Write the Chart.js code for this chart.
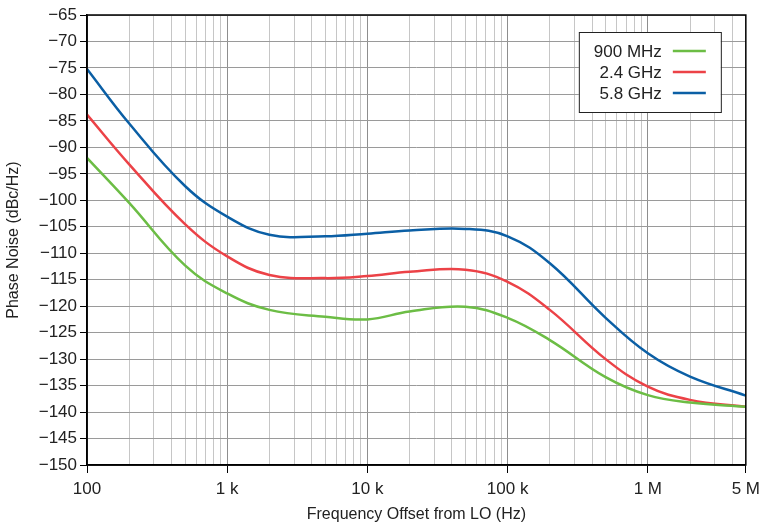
<!DOCTYPE html>
<html>
<head>
<meta charset="utf-8">
<script src="https://cdn.jsdelivr.net/npm/chart.js@4.4.1/dist/chart.umd.min.js"></script>
<style>
  html, body { margin:0; padding:0; background:#fff; }
  #wrap { width:766px; height:525px; position:relative; }
</style>
</head>
<body>
<div id="wrap"><canvas id="c"></canvas></div>
<script>
// --- datos ---
const freqs = [100, 200, 500, 1000, 2000, 5000, 10000, 20000, 50000,
               100000, 200000, 500000, 1000000, 2000000, 5000000];

const n900M = [-92.0, -100.5, -112.3, -117.6, -120.7, -122.0, -122.5, -121.0, -120.1,
               -122.2, -126.4, -133.4, -136.8, -138.2, -139.0];
const n2G4  = [-83.8, -93.2, -104.5, -110.6, -114.1, -114.7, -114.3, -113.5, -113.1,
               -115.4, -120.7, -130.0, -135.2, -137.7, -139.0];
const n5G8  = [-75.2, -85.5, -97.3, -103.1, -106.5, -106.8, -106.3, -105.7, -105.4,
               -106.8, -111.9, -122.2, -128.9, -133.3, -136.9];

const seriesLabels = ["900 MHz", "2.4 GHz", "5.8 GHz"];
const seriesColors = ["#6cbd45", "#ec4247", "#0b5fa5"];

const xLabelValues = [100, 1000, 10000, 100000, 1000000, 5000000];
const xLabelText   = ["100", "1 k", "10 k", "100 k", "1 M", "5 M"];
const decades = [100, 1000, 10000, 100000, 1000000];

const FONT = "'Liberation Sans', Arial, Helvetica, sans-serif";
const TXT = "#222";

function sel(id){ return document.getElementById(id); }
const minus = (v) => String(v).replace("-", "\u2212");
const pts = (ys) => freqs.map((f,i)=>({ x:f, y:ys[i] }));

// lineas de rejilla: 1..9 por decada, hasta 5 M
const gridVals = [];
decades.forEach(d => { for (let k=1;k<=9;k++){ const v=d*k; if (v<=5000000) gridVals.push(v); } });

// --- leyenda y marco ---
const framePlugin = {
  id: "frame",
  afterDraw(chart){
    const { ctx, chartArea: a } = chart;
    ctx.save();
    ctx.strokeStyle = "#000";
    ctx.lineWidth = 1.5;
    ctx.strokeRect(a.left, a.top, a.right - a.left, a.bottom - a.top);

    // leyenda
    const bx = a.right - 167, by = a.top + 17, bw = 142, bh = 80;
    ctx.fillStyle = "#fff";
    ctx.fillRect(bx, by, bw, bh);
    ctx.lineWidth = 1;
    ctx.strokeStyle = "#222";
    ctx.strokeRect(bx + 0.5, by + 0.5, bw, bh);
    ctx.font = "17px " + FONT;
    ctx.textAlign = "right";
    ctx.textBaseline = "middle";
    chart.data.datasets.forEach((ds, i) => {
      const y = by + 19 + i * 21;
      ctx.fillStyle = TXT;
      ctx.fillText(ds.label, bx + 83, y + 1);
      ctx.strokeStyle = ds.borderColor;
      ctx.lineWidth = 2.5;
      ctx.beginPath();
      ctx.moveTo(bx + 94, y);
      ctx.lineTo(bx + 127, y);
      ctx.stroke();
    });
    ctx.restore();
  }
};

new Chart(sel("c"), {
  type: "line",
  data: {
    datasets: [n900M, n2G4, n5G8].map((ys, i) => ({
      label: seriesLabels[i],
      data: pts(ys),
      borderColor: seriesColors[i],
      borderWidth: 2.5,
      pointRadius: 0,
      tension: 0.4,
      fill: false
    }))
  },
  options: {
    responsive: true,
    maintainAspectRatio: false,
    animation: false,
    events: [],
    layout: { padding: { left: 0, top: 15, right: 15, bottom: 0 } },
    plugins: { legend: { display: false }, tooltip: { enabled: false } },
    scales: {
      x: {
        type: "logarithmic",
        min: 100, max: 5000000,
        afterBuildTicks: (s) => { s.ticks = gridVals.map(v => ({ value: v })); },
        afterFit: (s) => { s.height = 60; },
        border: { color: "#000", width: 1.5 },
        grid: {
          color: (c) => decades.includes(c.tick?.value) ? "#8e8e8e" : "#c6c6c6",
          lineWidth: 1,
          drawTicks: true,
          tickLength: 8,
          tickColor: (c) => xLabelValues.includes(c.tick?.value) ? "#000" : "rgba(0,0,0,0)"
        },
        ticks: {
          autoSkip: false,
          maxRotation: 0,
          padding: 6,
          color: TXT,
          font: { family: FONT, size: 17 },
          callback: (v) => { const i = xLabelValues.indexOf(v); return i >= 0 ? xLabelText[i] : ""; }
        },
        title: {
          display: true,
          text: "Frequency Offset from LO (Hz)",
          color: TXT,
          font: { family: FONT, size: 16 },
          padding: { top: 0, bottom: 1 }
        }
      },
      y: {
        min: -150, max: -65,
        afterFit: (s) => { s.width = 87; },
        border: { color: "#000", width: 1.5 },
        grid: { color: "#9a9a9a", lineWidth: 1, tickLength: 7, tickColor: "#000" },
        ticks: {
          stepSize: 5,
          padding: 3,
          color: TXT,
          font: { family: FONT, size: 17 },
          callback: (v) => minus(v)
        },
        title: {
          display: true,
          text: "Phase Noise (dBc/Hz)",
          color: TXT,
          font: { family: FONT, size: 16 },
          padding: { top: 4, bottom: 3 }
        }
      }
    }
  },
  plugins: [framePlugin]
});
</script>
</body>
</html>
